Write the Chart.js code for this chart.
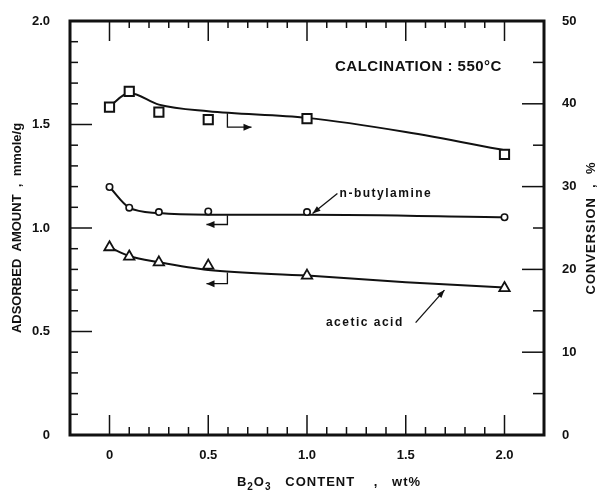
<!DOCTYPE html>
<html>
<head>
<meta charset="utf-8">
<script src="https://cdn.jsdelivr.net/npm/chart.js@4.4.0/dist/chart.umd.min.js"></script>
<style>
  html, body { margin: 0; padding: 0; background: #fff; }
  #wrap { width: 606px; height: 495px; }
</style>
</head>
<body>
<div id="wrap"><canvas id="myChart" width="606" height="495"></canvas></div>
<script>
// measured points
const boronContent = [0, 0.1, 0.25, 0.5, 1.0, 2.0];
const conversion = [39.6, 41.5, 39.0, 38.1, 38.2, 33.9];
const butylamine = [1.198, 1.098, 1.077, 1.080, 1.077, 1.052];
const aceticAcid = [0.907, 0.862, 0.834, 0.818, 0.770, 0.710];

// hand-drawn curves
const conversionFitX = [0, 0.1, 0.25, 0.5, 1.0, 1.5, 2.0];
const conversionFit = [39.7, 41.3, 39.9, 39.1, 38.3, 36.6, 34.4];
const butylFitX = [0, 0.1, 0.25, 0.5, 1.0, 2.0];
const butylFit = [1.198, 1.098, 1.072, 1.064, 1.064, 1.052];
const aceticFitX = [0, 0.1, 0.25, 0.5, 1.0, 1.5, 2.0];
const aceticFit = [0.907, 0.865, 0.835, 0.797, 0.770, 0.738, 0.712];

const xTicks = [0, 0.5, 1.0, 1.5, 2.0];
const xTickLabels = ["0", "0.5", "1.0", "1.5", "2.0"];
const yTicks = [0, 0.5, 1.0, 1.5, 2.0];
const yTickLabels = ["0", "0.5", "1.0", "1.5", "2.0"];
const y2Ticks = [0, 10, 20, 30, 40, 50];
const y2TickLabels = ["0", "10", "20", "30", "40", "50"];

const INK = "#111";
const FONT = "'Liberation Sans', Arial, sans-serif";

function pts(xs, ys) {
  return xs.map((v, i) => ({ x: v, y: ys[i] }));
}

function line(ctx, x1, y1, x2, y2) {
  ctx.beginPath();
  ctx.moveTo(x1, y1);
  ctx.lineTo(x2, y2);
  ctx.stroke();
}

function arrowHead(ctx, x1, y1, x2, y2, len, half) {
  let ang = Math.atan2(y2 - y1, x2 - x1);
  ctx.beginPath();
  ctx.moveTo(x2, y2);
  ctx.lineTo(x2 - len * Math.cos(ang) + half * Math.sin(ang), y2 - len * Math.sin(ang) - half * Math.cos(ang));
  ctx.lineTo(x2 - len * Math.cos(ang) - half * Math.sin(ang), y2 - len * Math.sin(ang) + half * Math.cos(ang));
  ctx.closePath();
  ctx.fill();
}

const figureMarks = {
  id: "figureMarks",
  afterDatasetsDraw(chart) {
    const { ctx, chartArea: a, scales } = chart;
    const sx = scales.x, sy = scales.y, sy2 = scales.y2;
    ctx.save();
    ctx.strokeStyle = INK;
    ctx.fillStyle = INK;

    // frame
    ctx.lineWidth = 3;
    ctx.strokeRect(a.left, a.top, a.right - a.left, a.bottom - a.top);

    // inward ticks
    ctx.lineWidth = 1.5;
    for (let i = 0; i <= 20; i++) {
      let px = sx.getPixelForValue(i / 10);
      let major = i % 5 === 0;
      line(ctx, px, a.bottom, px, a.bottom - (major ? 20 : 8));
      line(ctx, px, a.top, px, a.top + (major ? 20 : 7));
    }
    for (let i = 1; i < 20; i++) {
      let py = sy.getPixelForValue(i / 10);
      line(ctx, a.left, py, a.left + (i % 5 === 0 ? 22 : 8), py);
    }
    for (let i = 1; i < 10; i++) {
      let py = sy2.getPixelForValue(i * 5);
      line(ctx, a.right, py, a.right - (i % 2 === 0 ? 22 : 11), py);
    }

    // axis pointers (which scale each curve belongs to)
    ctx.lineWidth = 1.3;
    const pointers = [
      { x: 0.597, y1: 1.554, y2: 1.487, to: 0.719 },
      { x: 0.597, y1: 1.061, y2: 1.017, to: 0.491 },
      { x: 0.597, y1: 0.785, y2: 0.731, to: 0.491 }
    ];
    pointers.forEach((p) => {
      let px = sx.getPixelForValue(p.x);
      let pTop = sy.getPixelForValue(p.y1);
      let pBot = sy.getPixelForValue(p.y2);
      let pEnd = sx.getPixelForValue(p.to);
      ctx.beginPath();
      ctx.moveTo(px, pTop);
      ctx.lineTo(px, pBot);
      ctx.lineTo(pEnd, pBot);
      ctx.stroke();
      arrowHead(ctx, px, pBot, pEnd, pBot, 8, 3.5);
    });

    // curve labels with leaders
    ctx.lineWidth = 1.3;
    const leaders = [
      { text: "n-butylamine", tx: 1.165, ty: 1.167, align: "left", x1: 1.154, y1: 1.167, x2: 1.028, y2: 1.070 },
      { text: "acetic acid", tx: 1.49, ty: 0.543, align: "right", x1: 1.55, y1: 0.543, x2: 1.696, y2: 0.700 }
    ];
    ctx.font = "bold 12px " + FONT;
    ctx.textBaseline = "middle";
    leaders.forEach((l) => {
      let x1 = sx.getPixelForValue(l.x1), y1 = sy.getPixelForValue(l.y1);
      let x2 = sx.getPixelForValue(l.x2), y2 = sy.getPixelForValue(l.y2);
      line(ctx, x1, y1, x2, y2);
      arrowHead(ctx, x1, y1, x2, y2, 8, 3);
      ctx.textAlign = l.align;
      ctx.letterSpacing = "1.5px";
      ctx.fillText(l.text, sx.getPixelForValue(l.tx), sy.getPixelForValue(l.ty));
    });
    ctx.letterSpacing = "0px";

    // calcination note
    ctx.font = "bold 15px " + FONT;
    ctx.textAlign = "left";
    ctx.letterSpacing = "0.5px";
    ctx.fillText("CALCINATION : 550\u00B0C", 335, 67);
    ctx.letterSpacing = "0px";

    // right axis title, reading bottom to top
    ctx.font = "bold 13px " + FONT;
    ctx.save();
    ctx.translate(591, (a.top + a.bottom) / 2);
    ctx.rotate(-Math.PI / 2);
    ctx.textAlign = "center";
    ctx.letterSpacing = "1px";
    ctx.fillText("CONVERSION  ,  %", 0, 0);
    ctx.restore();

    // x axis title with subscripts
    const parts = [
      { t: "B", sub: false }, { t: "2", sub: true }, { t: "O", sub: false },
      { t: "3", sub: true }, { t: "   CONTENT    ,   wt%", sub: false }
    ];
    ctx.letterSpacing = "1px";
    let widths = parts.map((p) => {
      ctx.font = "bold " + (p.sub ? 10 : 13) + "px " + FONT;
      return ctx.measureText(p.t).width;
    });
    let total = widths.reduce((s, w) => s + w, 0);
    let cx = 329 - total / 2;
    ctx.textAlign = "left";
    parts.forEach((p, i) => {
      ctx.font = "bold " + (p.sub ? 10 : 13) + "px " + FONT;
      ctx.fillText(p.t, cx, p.sub ? 487 : 482);
      cx += widths[i];
    });
    ctx.restore();
  }
};

new Chart("myChart", {
  type: "scatter",
  data: {
    datasets: [
      {
        data: pts(boronContent, conversion),
        yAxisID: "y2",
        showLine: false,
        pointStyle: "rect",
        pointRadius: 6.5,
        pointBorderWidth: 2,
        pointBorderColor: INK,
        pointBackgroundColor: "#fff"
      },
      {
        data: pts(boronContent, butylamine),
        yAxisID: "y",
        showLine: false,
        pointStyle: "circle",
        pointRadius: 3.2,
        pointBorderWidth: 1.6,
        pointBorderColor: INK,
        pointBackgroundColor: "#fff"
      },
      {
        data: pts(boronContent, aceticAcid),
        yAxisID: "y",
        showLine: false,
        pointStyle: "triangle",
        pointRadius: 6,
        pointBorderWidth: 1.8,
        pointBorderColor: INK,
        pointBackgroundColor: "#fff"
      },
      {
        data: pts(conversionFitX, conversionFit),
        yAxisID: "y2",
        showLine: true,
        pointRadius: 0,
        borderColor: INK,
        borderWidth: 2,
        cubicInterpolationMode: "monotone"
      },
      {
        data: pts(butylFitX, butylFit),
        yAxisID: "y",
        showLine: true,
        pointRadius: 0,
        borderColor: INK,
        borderWidth: 2,
        cubicInterpolationMode: "monotone"
      },
      {
        data: pts(aceticFitX, aceticFit),
        yAxisID: "y",
        showLine: true,
        pointRadius: 0,
        borderColor: INK,
        borderWidth: 2,
        cubicInterpolationMode: "monotone"
      }
    ]
  },
  options: {
    responsive: false,
    animation: false,
    events: [],
    layout: { padding: { top: 21, left: 0, right: 0, bottom: 0 } },
    plugins: { legend: { display: false }, tooltip: { enabled: false } },
    scales: {
      x: {
        type: "linear",
        min: -0.2,
        max: 2.2,
        grid: { display: false },
        border: { display: false },
        afterBuildTicks: (s) => { s.ticks = xTicks.map((v) => ({ value: v })); },
        afterFit: (s) => { s.height = 60; },
        ticks: {
          color: INK,
          padding: 5,
          font: { family: FONT, size: 13, weight: "bold" },
          callback: (v) => xTickLabels[xTicks.indexOf(v)]
        }
      },
      y: {
        position: "left",
        min: 0,
        max: 2,
        grid: { display: false },
        border: { display: false },
        afterBuildTicks: (s) => { s.ticks = yTicks.map((v) => ({ value: v })); },
        afterFit: (s) => { s.width = 70; },
        ticks: {
          color: INK,
          padding: 12,
          font: { family: FONT, size: 13, weight: "bold" },
          callback: (v) => yTickLabels[yTicks.indexOf(v)]
        },
        title: {
          display: true,
          text: "ADSORBED  AMOUNT  ,  mmole/g",
          color: INK,
          padding: { top: 10, bottom: 0 },
          font: { family: FONT, size: 13, weight: "bold" }
        }
      },
      y2: {
        position: "right",
        min: 0,
        max: 50,
        grid: { display: false },
        border: { display: false },
        afterBuildTicks: (s) => { s.ticks = y2Ticks.map((v) => ({ value: v })); },
        afterFit: (s) => { s.width = 62; },
        ticks: {
          color: INK,
          padding: 10,
          font: { family: FONT, size: 13, weight: "bold" },
          callback: (v) => y2TickLabels[y2Ticks.indexOf(v)]
        }
      }
    }
  },
  plugins: [figureMarks]
});
</script>
</body>
</html>
